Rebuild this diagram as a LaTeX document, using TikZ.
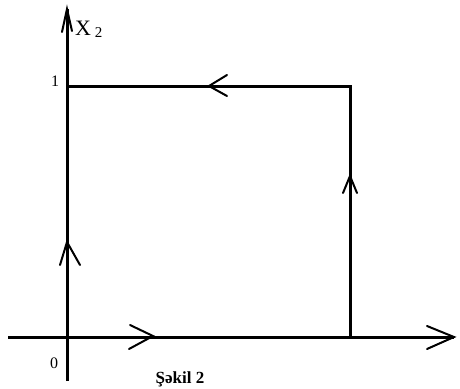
\documentclass[tikz,border=0pt]{standalone}
\usepackage{fontspec}
\setmainfont{Liberation Serif}
\begin{document}
\begin{tikzpicture}[x=1pt,y=-1pt,
  axis/.style={line width=3pt},
  path/.style={line width=3pt},
  chev/.style={line width=2pt,line cap=round,line join=miter},
  lbl/.style={inner sep=0pt,font=\fontsize{16}{18}\selectfont}]
\useasboundingbox (0,0) rectangle (460,388);
% axes
\coordinate (xs) at (8,337);
\coordinate (xe) at (454,337);
\coordinate (ys) at (67,381);
\coordinate (ye) at (67,9);
\coordinate (o) at (67,337);
\coordinate (a) at (350,337);
\coordinate (b) at (350,86);
\coordinate (c) at (67,86);
\draw[axis] (xs) -- (xe);
\draw[axis] (ys) -- (ye);
\draw[path] (a) -- (b) -- (c);
% chevrons
\draw[chev] (427,326) -- (xe) -- (427,349);
\draw[chev] (130,325) -- (153,336) -- (129,349);
\draw[chev] (227,75) -- (209,86) -- (227,96);
\draw[chev] (343,193) -- (350,176) -- (357,193);
\draw[chev] (60,265) -- (67,242) -- (80,265);
\draw[chev] (62,32) -- (ye) -- (72,31);
% labels
\node[inner sep=0pt,anchor=base west,font=\fontsize{22}{24}\selectfont] (x2) at (75,35) {X\,\raisebox{-2pt}{\fontsize{15}{17}\selectfont 2}};
\node[lbl,anchor=base] (one) at (55,86) {1};
\node[lbl,anchor=base] (zero) at (54,368) {0};
\node[inner sep=0pt,anchor=base,font=\fontsize{17}{19}\selectfont\bfseries] (cap) at (180,383) {Şəkil 2};
\end{tikzpicture}
\end{document}
